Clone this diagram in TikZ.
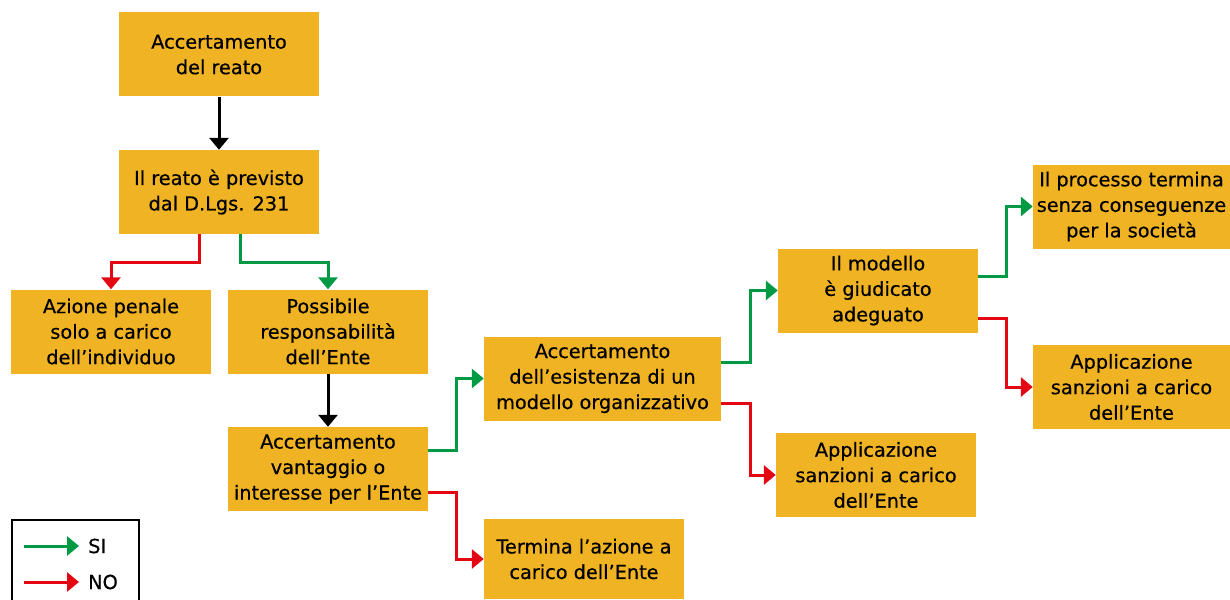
\documentclass[tikz,border=0pt]{standalone}
\usepackage{fontspec}
\setmainfont{DejaVu Sans}
\newfontfamily\boxfont{DejaVu Sans}[FakeBold=0.5]
\usetikzlibrary{arrows.meta}
\definecolor{boxfill}{RGB}{240,179,35}
\definecolor{sigreen}{RGB}{0,154,68}
\definecolor{nored}{RGB}{227,6,19}

\begin{document}
\begin{tikzpicture}[x=1pt,y=-1pt]
\tikzstyle{step box}=[fill=boxfill, inner sep=0pt, minimum width=200pt, minimum height=84pt, align=center, font=\boxfont\fontsize{19.3}{25.5}\selectfont]
\tikzstyle{arr}=[line width=3pt, -{Triangle[length=12pt,width=19pt]}]
\tikzstyle{yes}=[arr, sigreen]
\tikzstyle{no}=[arr, nored]
    \useasboundingbox (0,0) rectangle (1230,599);

    \node[step box] (1) at (219,54.5) {Accertamento\\del reato};
    \node[step box] (2) at (219,192) {Il reato è previsto\\dal D.Lgs. 231};
    \node[step box] (3) at (111,331.5) {Azione penale\\solo a carico\\dell’individuo};
    \node[step box] (4) at (328,331.5) {Possibile\\responsabilità\\dell’Ente};
    \node[step box] (5) at (328,469) {Accertamento\\vantaggio o\\interesse per l’Ente};
    \node[step box, minimum height=80pt] (6) at (584,559) {Termina l’azione a\\carico dell’Ente};
    \node[step box, minimum width=237pt] (7) at (602.5,378.5) {Accertamento\\dell’esistenza di un\\modello organizzativo};
    \node[step box] (8) at (876,475) {Applicazione\\sanzioni a carico\\dell’Ente};
    \node[step box] (9) at (878,290.5) {Il modello\\è giudicato\\adeguato};
    \node[step box, minimum width=197pt] (10) at (1131.5,206.5) {Il processo termina\\senza conseguenze\\per la società};
    \node[step box, minimum width=197pt] (11) at (1131.5,387) {Applicazione\\sanzioni a carico\\dell’Ente};

    \draw[arr] (1) -- (2);
    \draw[arr] (4) -- (5);

    \draw[no] ([xshift=-20pt]2.south) -- ++(0,28) -| (3.north);
    \draw[yes] ([xshift=21pt]2.south) -- ++(0,28) -| (4.north);

    \draw[yes] ([yshift=19pt]5.east) -- ++(28,0) |- (7.west);
    \draw[no] ([yshift=-23pt]5.east) -- ++(28,0) |- (6.west);

    \draw[yes] ([yshift=16pt]7.east) -- ++(29,0) |- (9.west);
    \draw[no] ([yshift=-25pt]7.east) -- ++(29,0) |- (8.west);

    \draw[yes] ([yshift=14.5pt]9.east) -- ++(28,0) |- (10.west);
    \draw[no] ([yshift=-27.5pt]9.east) -- ++(28,0) |- (11.west);

    % legenda
    \draw[line width=1.2pt] (12,520) rectangle (139,615);
    \coordinate (g) at (24,546);
    \coordinate (r) at (24,582);
    \node[anchor=west, inner sep=0pt, font=\boxfont\fontsize{19.3}{25.5}\selectfont] (si) at (88,546) {SI};
    \node[anchor=west, inner sep=0pt, font=\boxfont\fontsize{19.3}{25.5}\selectfont] (nolab) at (88,582) {NO};
    \draw[yes] (g) -- ([xshift=-9pt]si.west);
    \draw[no] (r) -- ([xshift=-9pt]nolab.west);

\end{tikzpicture}
\end{document}
